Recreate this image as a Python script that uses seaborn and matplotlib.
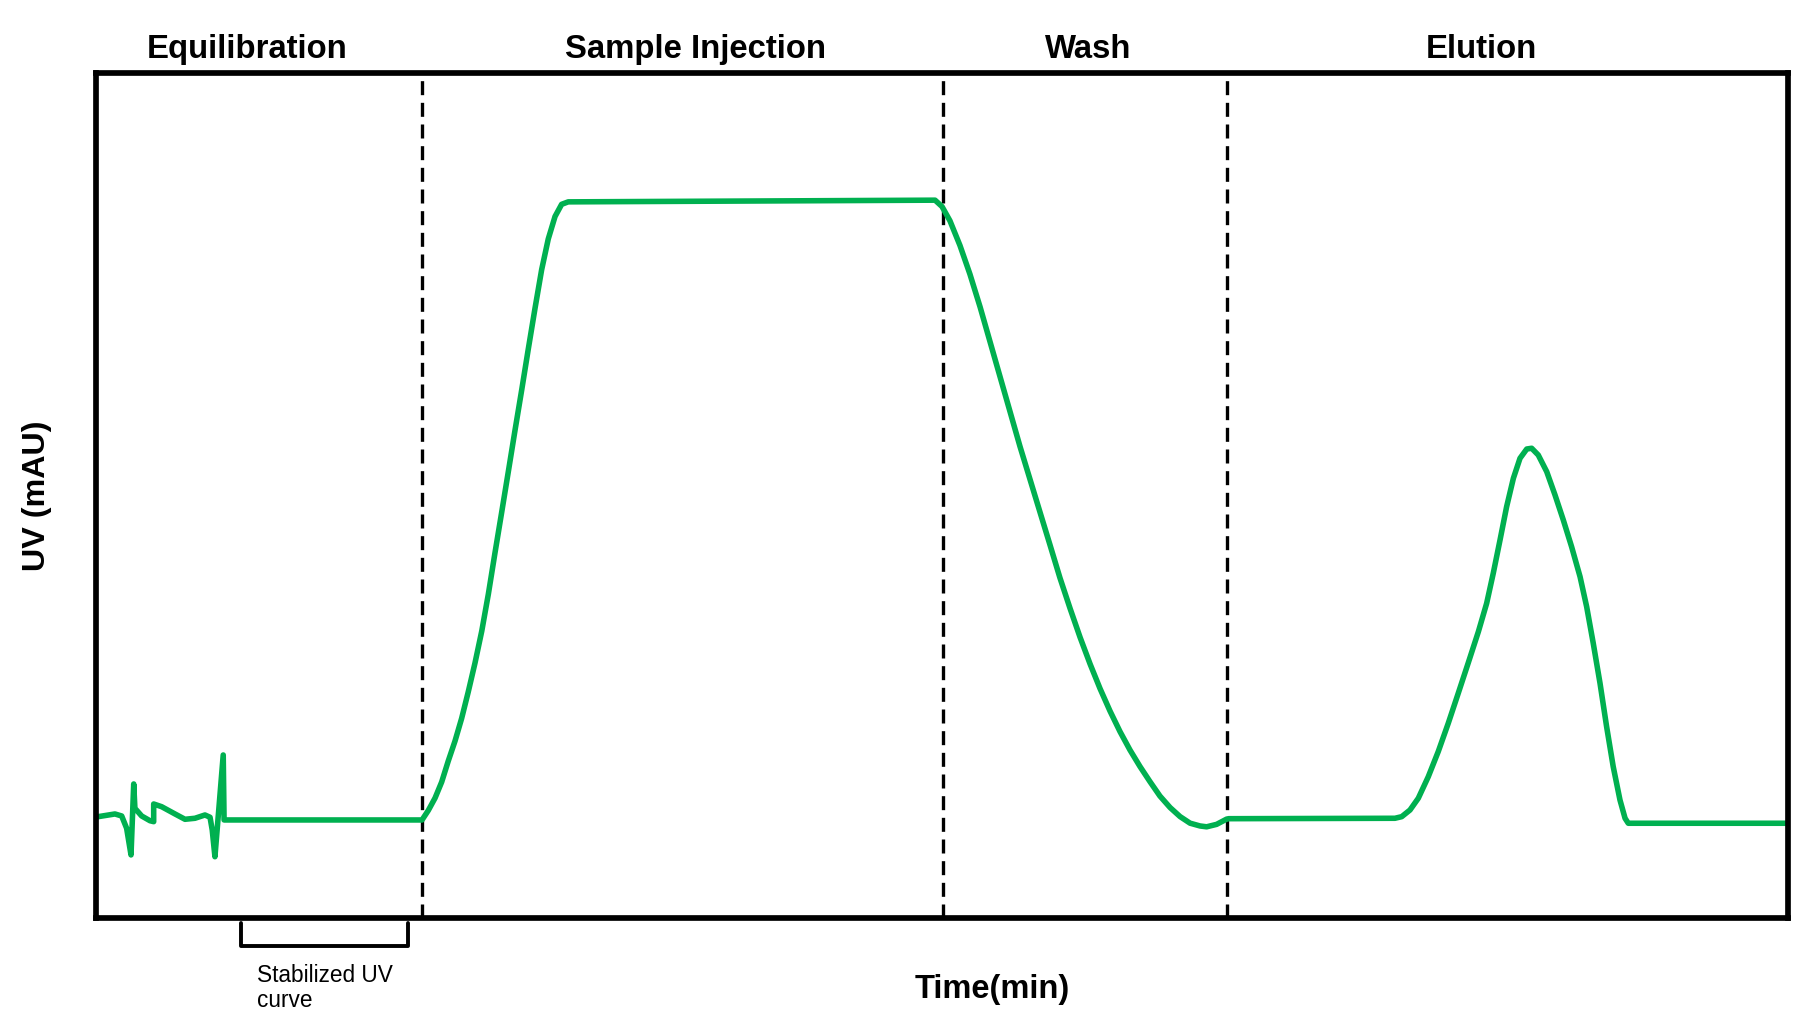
import numpy as np
import pandas as pd
import matplotlib
matplotlib.use('Agg')
import matplotlib.pyplot as plt
import seaborn as sns

sns.set_theme(style='white')
plt.rcParams['font.family'] = ['Liberation Sans', 'DejaVu Sans']
plt.rcParams['text.color'] = 'black'
plt.rcParams['axes.labelcolor'] = 'black'

# Schematic chromatogram (arbitrary units)
equil_t = [0.0, 1.12, 1.52, 1.81, 2.07, 2.23, 2.30, 2.70, 3.19, 3.41, 3.41, 3.88, 4.67,
           5.26, 5.85, 6.44, 6.74, 6.87, 7.03, 7.52, 7.57, 19.27]
equil_uv = [11.95, 12.31, 12.07, 10.62, 7.46, 15.86, 12.98, 12.07, 11.51, 11.40, 13.49, 13.17, 12.31,
            11.68, 11.80, 12.19, 11.92, 10.41, 7.25, 19.29, 11.60, 11.60]

load_t = [19.64, 20.04, 20.43, 20.82, 21.22, 21.61, 22.00, 22.40, 22.80, 23.19, 23.58,
          23.98, 24.37, 24.76, 25.16, 25.55, 25.95, 26.34, 26.73, 27.13, 27.52, 27.91, 49.59]
load_uv = [12.73, 14.20, 16.09, 18.58, 20.95, 23.62, 26.75, 30.18, 33.96, 38.34, 43.20,
           48.05, 52.83, 57.66, 62.49, 67.34, 72.19, 76.73, 80.36, 83.02, 84.46, 84.75, 84.95]

wash_t = [50.00, 50.47, 51.06, 51.65, 52.25, 52.84, 53.43, 54.02, 54.61, 55.20, 55.79,
          56.38, 56.97, 57.57, 58.16, 58.75, 59.34, 59.93, 60.52, 61.11, 61.70, 62.29,
          62.88, 63.48, 64.07, 64.66, 65.25, 65.64, 66.23, 66.82]
wash_uv = [84.20, 82.51, 79.60, 76.20, 72.32, 68.19, 64.06, 59.93, 55.80, 51.92, 48.04,
           44.17, 40.26, 36.63, 33.22, 30.07, 27.15, 24.49, 22.06, 19.88, 17.93, 16.14,
           14.43, 13.07, 12.00, 11.22, 10.89, 10.79, 11.08, 11.70]

elution_t = [66.95, 76.77, 77.17, 77.66, 78.15, 78.74, 79.33, 79.92, 80.51, 81.10, 81.70,
             82.19, 82.58, 82.98, 83.37, 83.77, 84.16, 84.56, 84.85, 85.24, 85.74, 86.23,
             86.72, 87.21, 87.71, 88.10, 88.49, 88.89, 89.28, 89.67, 90.07, 90.37, 90.56, 100.0]
elution_uv = [11.75, 11.80, 11.99, 12.78, 14.17, 16.72, 19.70, 23.04, 26.59, 30.18, 33.88,
              37.24, 40.79, 44.73, 48.67, 52.04, 54.40, 55.50, 55.59, 54.79, 52.82, 50.06,
              47.10, 43.94, 40.39, 36.84, 32.51, 27.78, 22.64, 17.91, 13.96, 11.80, 11.21, 11.21]

phase_names = ['Equilibration', 'Sample Injection', 'Wash', 'Elution']
phase_label_t = [8.92, 35.46, 58.65, 81.86]
phase_bounds = [19.27, 50.06, 66.84]

stable_start, stable_end = 8.57, 18.44

df = pd.DataFrame({
    'Time': equil_t + load_t + wash_t + elution_t,
    'UV': equil_uv + load_uv + wash_uv + elution_uv,
})

fig = plt.figure(figsize=(18.18, 10.21), dpi=100)
ax = fig.add_axes([0.0528, 0.1009, 0.9307, 0.8276])

sns.lineplot(data=df, x='Time', y='UV', sort=False, estimator=None, ax=ax,
             color='#00B050', linewidth=4.0, solid_joinstyle='round', solid_capstyle='butt')

for b in phase_bounds:
    ax.axvline(b, color='black', linewidth=2.4, linestyle=(0, (4.2, 2.3)), zorder=1)

ax.set_xlim(0, 100)
ax.set_ylim(0, 100)
ax.set_xticks([])
ax.set_yticks([])

for s in ax.spines.values():
    s.set_visible(True)
    s.set_color('black')
    s.set_linewidth(4.1)

for name, t in zip(phase_names, phase_label_t):
    ax.text(t, 101.8, name, ha='center', va='baseline', fontsize=23.7,
            fontweight='bold', clip_on=False)

ax.set_xlabel('Time(min)', fontsize=23.5, fontweight='bold', va='baseline')
ax.xaxis.set_label_coords(0.5296, -0.0947)
ax.set_ylabel('UV (mAU)', fontsize=23.2, fontweight='bold', va='baseline')
ax.yaxis.set_label_coords(-0.0301, 0.5)

# bracket marking the stabilized baseline
ax.plot([stable_start, stable_start, stable_end, stable_end], [-0.6, -3.3, -3.3, -0.6],
        color='black', linewidth=2.8, clip_on=False, solid_joinstyle='round')
ax.text(9.52, -10.53, 'Stabilized UV\ncurve', ha='left', va='baseline', fontsize=16.3,
        linespacing=1.1, clip_on=False)

fig.savefig('out.png', dpi=100, facecolor='white')
plt.close()
